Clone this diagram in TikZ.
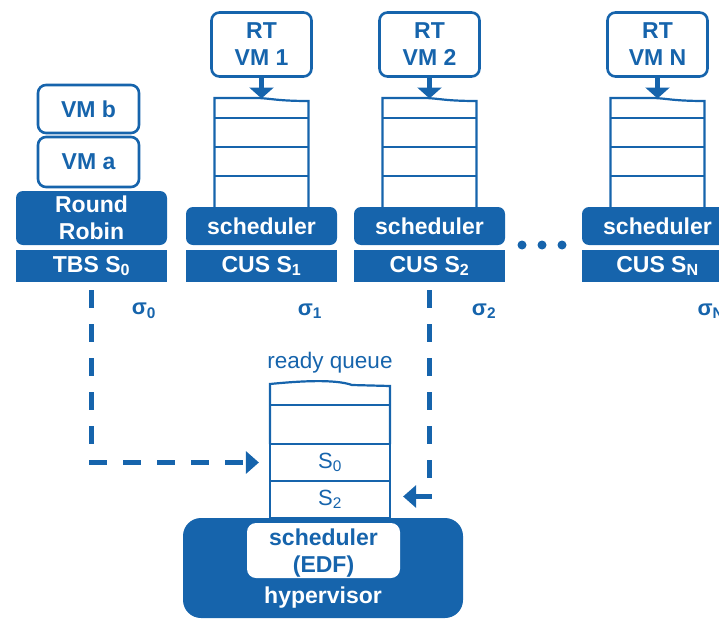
\documentclass[tikz,border=0pt]{standalone}
\usepackage{fontspec}
\setmainfont{Liberation Sans}
\usetikzlibrary{arrows.meta}
\definecolor{vmblue}{RGB}{22,100,172}
\newcommand\boldfont{\bfseries\fontsize{23}{27}\selectfont}
\begin{document}
\begin{tikzpicture}[x=1pt,y=-1pt,
  outbox/.style={draw=vmblue, line width=2.6pt, rounded corners=8pt, fill=white,
    text=vmblue, font=\boldfont, align=center, inner sep=0pt},
  solidbox/.style={fill=vmblue, rounded corners=7pt, text=white, font=\boldfont,
    align=center, inner sep=0pt},
  barbox/.style={fill=vmblue, text=white, font=\boldfont, inner sep=0pt},
  qline/.style={draw=vmblue, line width=2.2pt},
  cell/.style={qline, inner sep=0pt, minimum width=120pt, text=vmblue,
    font=\fontsize{22}{26}\selectfont},
  feed/.style={vmblue, line width=4.5pt, -{Triangle[length=11pt,width=24pt]}},
  flowline/.style={vmblue, line width=4.5pt, dash pattern=on 18pt off 16pt},
  flow/.style={flowline, -{Triangle[length=13pt,width=22pt]}},
  flowtip/.style={vmblue, line width=4.5pt, -{Triangle[length=13pt,width=22pt]}},
  lab/.style={text=vmblue, font=\bfseries\fontsize{22}{26}\selectfont, inner sep=0pt},
  dot/.style={circle, fill=vmblue, minimum size=9pt, inner sep=0pt},
]
\useasboundingbox (0,0) rectangle (719,618);
\clip (0,0) rectangle (719,618);

% time-budget server with its two round-robin VMs
\node[outbox, minimum width=101pt, minimum height=48pt] (vmb) at (88.5,109) {VM b};
\node[outbox, minimum width=101pt, minimum height=50pt] (vma) at (88.5,162) {VM a};
\node[solidbox, minimum width=151pt, minimum height=54pt] (rr) at (91.5,218) {Round\\Robin};
\node[barbox, minimum width=151pt, minimum height=32pt] (tbs) at (91.5,266) {TBS S\textsubscript{0}};
\node[lab] (sig0) at (144,311) {σ\textsubscript{0}};

% constant-utilization servers, one per real-time VM
\foreach \cx/\id in {261.5/1, 429.5/2, 657.5/N} {
  \node[outbox, minimum width=100pt, minimum height=64pt] (rt\id) at (\cx,44.5) {RT\\VM \id};
  \draw[qline] (\cx-47,207) -- (\cx-47,98) -- (\cx-6,98)
    .. controls (\cx+8,98) and (\cx+14,101) .. (\cx+47,101) -- (\cx+47,207);
  \foreach \y in {118,147,176} \draw[qline] (\cx-47,\y) -- (\cx+47,\y);
  \coordinate (q\id top) at (\cx,98.5);
  \node[solidbox, minimum width=151pt, minimum height=38pt] (sch\id) at (\cx,226) {scheduler};
  \node[barbox, minimum width=151pt, minimum height=32pt] (cus\id) at (\cx,266) {CUS S\textsubscript{\id}};
  \draw[feed] (rt\id) -- (q\id top);
}
\node[lab] (sig1) at (310,311) {σ\textsubscript{1}};
\node[lab] (sig2) at (484,311) {σ\textsubscript{2}};
\node[lab] (sigN) at (711,311) {σ\textsubscript{N}};

\node[dot] (dot1) at (522,245) {};
\node[dot] (dot2) at (542,245) {};
\node[dot] (dot3) at (562,245) {};

% hypervisor ready queue
\node[text=vmblue, font=\fontsize{22.5}{26}\selectfont, inner sep=0pt] (rqlabel) at (330,363) {ready queue};
\draw[qline] (270,444) -- (270,384) .. controls (300,381) and (335,379) .. (352,385)
  -- (390,386) -- (390,444);
\draw[qline] (270,405) -- (390,405);
\node[cell, minimum height=37pt] (rq0) at (330,462.5) {S\textsubscript{0}};
\node[cell, minimum height=37pt] (rq2) at (330,499.5) {S\textsubscript{2}};

% hypervisor with its EDF scheduler
\node[fill=vmblue, rounded corners=18pt, minimum width=280pt, minimum height=100pt,
  inner sep=0pt] (hv) at (323,568) {};
\node[fill=white, rounded corners=9pt, minimum width=153pt, minimum height=55pt,
  text=vmblue, font=\boldfont, align=center, inner sep=0pt, text depth=0pt] (edf) at (323.5,550.5)
  {scheduler\\(EDF)};
\node[text=white, font=\boldfont, inner sep=0pt] (hvlabel) at (323,598) {hypervisor};

% servers feeding the ready queue
\draw[flow] ([yshift=-8pt]tbs.south) |- ([xshift=-10pt]rq0.west);
\coordinate (turn2) at ([yshift=3pt]cus2.south |- rq2.east);
\draw[flowline] ([yshift=-8pt]cus2.south) -- ([yshift=-2.25pt]turn2);
\draw[flowtip] ([xshift=2.25pt]turn2) -- ([xshift=12pt,yshift=3pt]rq2.east);
\end{tikzpicture}
\end{document}
